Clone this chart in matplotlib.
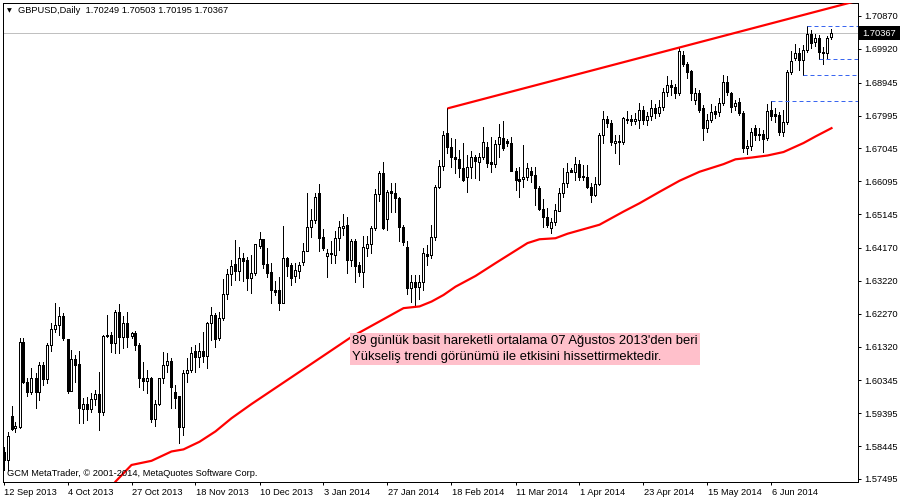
import matplotlib
matplotlib.use("Agg")
import matplotlib.pyplot as plt
import matplotlib.transforms as mtransforms
from matplotlib.patches import Rectangle

# ---------------- data ----------------
symbol = "GBPUSD,Daily"

opens = [1.5828, 1.5805, 1.5932, 1.5897, 1.5900, 1.6146, 1.6030, 1.6001, 1.6042, 1.6001,
         1.6079, 1.6039, 1.6137, 1.6183, 1.6195, 1.6221, 1.6154, 1.6004, 1.6096, 1.6082,
         1.5952, 1.5966, 1.5952, 1.5981, 1.5995, 1.5943, 1.6163, 1.6166, 1.6143, 1.6232,
         1.6160, 1.6200, 1.6163, 1.6172, 1.6137, 1.6042, 1.6033, 1.6042, 1.5923, 1.5966,
         1.6042, 1.6079, 1.6091, 1.6001, 1.5990, 1.5900, 1.6056, 1.6065, 1.6120, 1.6102,
         1.6120, 1.6105, 1.6200, 1.6224, 1.6157, 1.6215, 1.6284, 1.6342, 1.6371, 1.6351,
         1.6388, 1.6382, 1.6330, 1.6345, 1.6423, 1.6443, 1.6371, 1.6348, 1.6296, 1.6296,
         1.6258, 1.6388, 1.6368, 1.6336, 1.6351, 1.6377, 1.6408, 1.6478, 1.6498, 1.6576,
         1.6449, 1.6394, 1.6403, 1.6397, 1.6446, 1.6475, 1.6483, 1.6382, 1.6437, 1.6368,
         1.6348, 1.6417, 1.6429, 1.6475, 1.6573, 1.6634, 1.6501, 1.6582, 1.6576, 1.6561,
         1.6478, 1.6420, 1.6302, 1.6319, 1.6304, 1.6319, 1.6400, 1.6397, 1.6449, 1.6593,
         1.6654, 1.6749, 1.6709, 1.6680, 1.6674, 1.6648, 1.6622, 1.6651, 1.6680, 1.6665,
         1.6680, 1.6709, 1.6665, 1.6660, 1.6717, 1.6735, 1.6726, 1.6720, 1.6639, 1.6616,
         1.6616, 1.6622, 1.6639, 1.6628, 1.6590, 1.6530, 1.6507, 1.6475, 1.6492, 1.6524,
         1.6576, 1.6605, 1.6642, 1.6636, 1.6660, 1.6625, 1.6622, 1.6593, 1.6570, 1.6602,
         1.6743, 1.6789, 1.6778, 1.6720, 1.6726, 1.6723, 1.6787, 1.6789, 1.6784, 1.6787,
         1.6815, 1.6787, 1.6798, 1.6821, 1.6807, 1.6824, 1.6867, 1.6888, 1.6882, 1.6865,
         1.6974, 1.6948, 1.6928, 1.6844, 1.6865, 1.6821, 1.6764, 1.6787, 1.6813, 1.6810,
         1.6836, 1.6896, 1.6865, 1.6827, 1.6839, 1.6807, 1.6706, 1.6712, 1.6764, 1.6746,
         1.6746, 1.6735, 1.6815, 1.6804, 1.6801, 1.6752, 1.6781, 1.6925, 1.6966, 1.6980,
         1.6960, 1.6989, 1.7035, 1.7012, 1.7023, 1.6983, 1.6980, 1.70249]

highs = [1.5842, 1.5886, 1.5961, 1.5915, 1.6157, 1.6157, 1.6042, 1.6070, 1.6056, 1.6088,
         1.6088, 1.6143, 1.6200, 1.6258, 1.6247, 1.6229, 1.6154, 1.6122, 1.6108, 1.6120,
         1.5984, 1.5987, 1.5998, 1.6007, 1.6059, 1.6166, 1.6224, 1.6174, 1.6238, 1.6255,
         1.6221, 1.6232, 1.6174, 1.6177, 1.6143, 1.6088, 1.6065, 1.6045, 1.5978, 1.6042,
         1.6117, 1.6114, 1.6099, 1.6021, 1.5990, 1.6065, 1.6099, 1.6131, 1.6137, 1.6143,
         1.6174, 1.6203, 1.6247, 1.6229, 1.6232, 1.6327, 1.6356, 1.6382, 1.6440, 1.6420,
         1.6403, 1.6391, 1.6397, 1.6429, 1.6463, 1.6443, 1.6417, 1.6374, 1.6322, 1.6333,
         1.6481, 1.6391, 1.6374, 1.6374, 1.6377, 1.6431, 1.6576, 1.6530, 1.6576, 1.6602,
         1.6472, 1.6414, 1.6437, 1.6466, 1.6495, 1.6515, 1.6507, 1.6443, 1.6443, 1.6377,
         1.6452, 1.6452, 1.6481, 1.6587, 1.6639, 1.6665, 1.6584, 1.6605, 1.6605, 1.6564,
         1.6483, 1.6437, 1.6339, 1.6339, 1.6339, 1.6417, 1.6426, 1.6483, 1.6599, 1.6671,
         1.6755, 1.6820, 1.6735, 1.6732, 1.6700, 1.6720, 1.6686, 1.6697, 1.6686, 1.6691,
         1.6766, 1.6723, 1.6738, 1.6729, 1.6775, 1.6784, 1.6732, 1.6738, 1.6648, 1.6651,
         1.6714, 1.6662, 1.6651, 1.6651, 1.6596, 1.6558, 1.6533, 1.6504, 1.6544, 1.6590,
         1.6648, 1.6662, 1.6648, 1.6680, 1.6671, 1.6657, 1.6657, 1.6605, 1.6622, 1.6749,
         1.6813, 1.6798, 1.6787, 1.6743, 1.6743, 1.6795, 1.6813, 1.6801, 1.6807, 1.6836,
         1.6827, 1.6810, 1.6844, 1.6833, 1.6844, 1.6879, 1.6914, 1.6902, 1.6891, 1.6996,
         1.6986, 1.6954, 1.6931, 1.6879, 1.6873, 1.6830, 1.6804, 1.6833, 1.6827, 1.6850,
         1.6917, 1.6914, 1.6867, 1.6844, 1.6850, 1.6813, 1.6729, 1.6764, 1.6772, 1.6764,
         1.6758, 1.6833, 1.6841, 1.6821, 1.6810, 1.6815, 1.6931, 1.6986, 1.7006, 1.6995,
         1.7003, 1.7059, 1.7047, 1.7035, 1.7032, 1.6997, 1.7029, 1.70503]

lows = [1.5776, 1.5776, 1.5891, 1.5886, 1.5897, 1.6027, 1.5990, 1.5995, 1.5955, 1.5978,
        1.6021, 1.6027, 1.6120, 1.6174, 1.6166, 1.6151, 1.5998, 1.6004, 1.6030, 1.5912,
        1.5912, 1.5920, 1.5943, 1.5964, 1.5891, 1.5935, 1.6160, 1.6117, 1.6114, 1.6114,
        1.6128, 1.6131, 1.6157, 1.6122, 1.6016, 1.6007, 1.5998, 1.5915, 1.5903, 1.5964,
        1.6027, 1.6059, 1.5955, 1.5955, 1.5854, 1.5877, 1.6030, 1.6059, 1.6059, 1.6073,
        1.6088, 1.6070, 1.6151, 1.6131, 1.6151, 1.6209, 1.6270, 1.6310, 1.6325, 1.6325,
        1.6322, 1.6296, 1.6287, 1.6339, 1.6417, 1.6359, 1.6333, 1.6258, 1.6281, 1.6238,
        1.6258, 1.6336, 1.6310, 1.6319, 1.6330, 1.6368, 1.6408, 1.6449, 1.6489, 1.6408,
        1.6411, 1.6333, 1.6374, 1.6374, 1.6411, 1.6454, 1.6345, 1.6365, 1.6319, 1.6336,
        1.6304, 1.6394, 1.6403, 1.6469, 1.6553, 1.6472, 1.6469, 1.6521, 1.6521, 1.6437,
        1.6426, 1.6284, 1.6261, 1.6252, 1.6270, 1.6296, 1.6368, 1.6388, 1.6440, 1.6590,
        1.6642, 1.6691, 1.6651, 1.6634, 1.6622, 1.6610, 1.6579, 1.6619, 1.6619, 1.6613,
        1.6674, 1.6651, 1.6636, 1.6651, 1.6680, 1.6700, 1.6712, 1.6639, 1.6584, 1.6564,
        1.6593, 1.6613, 1.6608, 1.6541, 1.6527, 1.6478, 1.6478, 1.6460, 1.6483, 1.6524,
        1.6564, 1.6593, 1.6636, 1.6613, 1.6613, 1.6613, 1.6590, 1.6550, 1.6567, 1.6599,
        1.6720, 1.6766, 1.6714, 1.6691, 1.6660, 1.6717, 1.6778, 1.6772, 1.6775, 1.6764,
        1.6775, 1.6772, 1.6787, 1.6792, 1.6798, 1.6815, 1.6856, 1.6859, 1.6850, 1.6859,
        1.6943, 1.6908, 1.6844, 1.6833, 1.6810, 1.6729, 1.6752, 1.6781, 1.6792, 1.6798,
        1.6830, 1.6859, 1.6810, 1.6815, 1.6801, 1.6694, 1.6688, 1.6700, 1.6729, 1.6729,
        1.6694, 1.6729, 1.6787, 1.6781, 1.6743, 1.6740, 1.6775, 1.6919, 1.6960, 1.6931,
        1.6916, 1.6983, 1.6995, 1.7000, 1.6962, 1.6948, 1.6966, 1.70195]

closes = [1.5805, 1.5874, 1.5894, 1.5903, 1.6146, 1.6030, 1.6001, 1.6042, 1.6001, 1.6079,
          1.6039, 1.6137, 1.6183, 1.6195, 1.6221, 1.6157, 1.6004, 1.6096, 1.6079, 1.5955,
          1.5966, 1.5952, 1.5981, 1.5995, 1.5943, 1.6163, 1.6166, 1.6143, 1.6232, 1.6160,
          1.6200, 1.6160, 1.6172, 1.6137, 1.6042, 1.6033, 1.6042, 1.5923, 1.5966, 1.6042,
          1.6079, 1.6091, 1.6016, 1.5984, 1.5900, 1.6056, 1.6065, 1.6114, 1.6102, 1.6120,
          1.6105, 1.6200, 1.6224, 1.6154, 1.6215, 1.6284, 1.6342, 1.6365, 1.6351, 1.6388,
          1.6379, 1.6330, 1.6345, 1.6429, 1.6443, 1.6371, 1.6345, 1.6296, 1.6290, 1.6258,
          1.6388, 1.6365, 1.6330, 1.6353, 1.6368, 1.6408, 1.6478, 1.6498, 1.6564, 1.6446,
          1.6417, 1.6403, 1.6400, 1.6446, 1.6478, 1.6481, 1.6382, 1.6437, 1.6365, 1.6348,
          1.6420, 1.6429, 1.6475, 1.6573, 1.6634, 1.6475, 1.6579, 1.6576, 1.6561, 1.6478,
          1.6434, 1.6302, 1.6319, 1.6304, 1.6319, 1.6403, 1.6394, 1.6449, 1.6593, 1.6654,
          1.6743, 1.6709, 1.6680, 1.6674, 1.6648, 1.6613, 1.6651, 1.6680, 1.6668, 1.6680,
          1.6723, 1.6662, 1.6660, 1.6717, 1.6738, 1.6706, 1.6720, 1.6639, 1.6613, 1.6610,
          1.6622, 1.6648, 1.6628, 1.6590, 1.6530, 1.6507, 1.6483, 1.6492, 1.6527, 1.6576,
          1.6605, 1.6636, 1.6636, 1.6660, 1.6622, 1.6622, 1.6593, 1.6570, 1.6602, 1.6743,
          1.6789, 1.6778, 1.6723, 1.6726, 1.6723, 1.6792, 1.6789, 1.6784, 1.6789, 1.6815,
          1.6787, 1.6798, 1.6821, 1.6807, 1.6824, 1.6867, 1.6888, 1.6882, 1.6865, 1.6986,
          1.6948, 1.6925, 1.6865, 1.6865, 1.6815, 1.6764, 1.6787, 1.6810, 1.6804, 1.6836,
          1.6896, 1.6867, 1.6824, 1.6836, 1.6807, 1.6706, 1.6712, 1.6752, 1.6743, 1.6743,
          1.6732, 1.6813, 1.6798, 1.6798, 1.6752, 1.6781, 1.6925, 1.6957, 1.6980, 1.6960,
          1.6989, 1.7035, 1.7009, 1.7023, 1.6983, 1.6980, 1.7023, 1.70367]

date_labels = ["12 Sep 2013", "4 Oct 2013", "27 Oct 2013", "18 Nov 2013", "10 Dec 2013",
               "3 Jan 2014", "27 Jan 2014", "18 Feb 2014", "11 Mar 2014", "1 Apr 2014",
               "23 Apr 2014", "15 May 2014", "6 Jun 2014"]
label_every = 16

price_ticks = [1.57495, 1.58445, 1.59395, 1.60345, 1.61320, 1.62270, 1.63220, 1.64170,
               1.65145, 1.66095, 1.67045, 1.67995, 1.68945, 1.69920, 1.70870]

# 89-day simple moving average (bar index, value)
ma_bars = [26, 28, 32, 37, 42, 45, 49, 53, 57, 62, 74, 87, 95, 100, 104, 107, 110, 113,
           118, 123, 127, 131, 134, 138, 141, 145, 149, 152, 155, 159, 164, 169, 174, 180,
           183, 187, 191, 195, 200, 203, 207]
ma_values = [1.5710, 1.5742, 1.5790, 1.5802, 1.5829, 1.5835, 1.5857, 1.5887, 1.5925, 1.5966,
             1.6059, 1.6160, 1.6211, 1.6243, 1.6248, 1.6262, 1.6281, 1.6305, 1.6336, 1.6373,
             1.6402, 1.6431, 1.6442, 1.6445, 1.6458, 1.6471, 1.6484, 1.6503, 1.6522, 1.6546,
             1.6579, 1.6611, 1.6637, 1.6659, 1.6673, 1.6678, 1.6684, 1.6694, 1.6720, 1.6739,
             1.6763]

trend_bars = [111, 169]
trend_prices = [1.6820, 1.6996]

level_prices = [1.7059, 1.6962, 1.6916, 1.6841]
level_start_bars = [201, 204, 200, 192]

note = ("89 günlük basit hareketli ortalama 07 Ağustos 2013'den beri\n"
        "Yükseliş trendi görünümü ile etkisini hissettirmektedir.")
copyright_text = "GCM MetaTrader, © 2001-2014, MetaQuotes Software Corp."

# ---------------- figure ----------------
W, H = 900, 500
DPI = 100
PX = 72.0 / DPI  # one pixel in points
fig = plt.figure(figsize=(9, 5), dpi=DPI)
fig.patch.set_facecolor("white")
ax = fig.add_axes([3 / W, 18 / H, 855 / W, 479 / H])
ax.set_facecolor("white")

XMIN = -0.125
XMAX = XMIN + 855 / 4.0
YMIN, YMAX = 1.57408, 1.71245
ax.set_xlim(XMIN, XMAX)
ax.set_ylim(YMIN, YMAX)

uifont = ["Liberation Sans", "DejaVu Sans"]
LW = PX

# current price line
cur = closes[-1]
ax.axhline(cur, color="#c0c0c0", lw=LW, zorder=0.5)

# candles
n = len(closes)
xs = list(range(n))
ax.vlines(xs, lows, highs, colors="black", linewidth=LW, zorder=2, antialiased=False)
for i in range(n):
    o, c = opens[i], closes[i]
    up = c >= o
    r = Rectangle((i - 0.25, min(o, c)), 0.5, abs(c - o),
                  facecolor="white" if up else "black", edgecolor="black",
                  linewidth=LW, zorder=3, snap=True, antialiased=False)
    ax.add_patch(r)

# moving average
ax.plot(ma_bars, ma_values, color="red", lw=2.2 * PX, zorder=4, solid_joinstyle="round")

# trend line (ray)
slope = (trend_prices[1] - trend_prices[0]) / (trend_bars[1] - trend_bars[0])
x_end = XMAX + 5
ax.plot([trend_bars[0], x_end], [trend_prices[0], trend_prices[0] + slope * (x_end - trend_bars[0])],
        color="red", lw=2.2 * PX, zorder=4, solid_capstyle="butt")

# horizontal dashed levels
for lvl, sb in zip(level_prices, level_start_bars):
    ax.hlines(lvl, sb, XMAX, colors="#3a66f0", linewidth=LW, linestyles=(0, (4, 3)), zorder=4)

# annotation
ax.text(87.2, 1.6166, note, ha="left", va="top", fontsize=9.35, family=uifont,
        color="black", linespacing=1.5, zorder=6,
        bbox=dict(boxstyle="square,pad=0.16", fc="#ffc0cb", ec="none"))

# axes styling
for sp in ax.spines.values():
    sp.set_color("black")
    sp.set_linewidth(LW)

ax.yaxis.tick_right()
ax.set_yticks(price_ticks)
ax.set_yticklabels([f"{p:.5f}" for p in price_ticks], fontsize=6.7, family=uifont)
ax.tick_params(axis="y", direction="out", length=3 * PX, width=LW, pad=2.5, colors="black")

xt = [i * label_every for i in range(len(date_labels))]
ax.set_xticks(xt)
ax.set_xticklabels(date_labels, fontsize=6.7, family=uifont, ha="left")
ax.tick_params(axis="x", direction="out", length=3 * PX, width=LW, pad=2.5, colors="black")
offset = mtransforms.ScaledTranslation(1 / DPI, 0, fig.dpi_scale_trans)
for lab in ax.get_xticklabels():
    lab.set_transform(lab.get_transform() + offset)

# current price label on the right (black box at the right edge)
trans = mtransforms.blended_transform_factory(ax.transAxes, ax.transData)
box_h = 14 * (YMAX - YMIN) / 479.0
ax.add_patch(Rectangle((1.0, cur - box_h / 2), 42 / 855.0, box_h, transform=trans,
                       facecolor="black", edgecolor="none", clip_on=False, zorder=9))
ax.text(1.0 + 4 / 855.0, cur, f"{cur:.5f}", transform=trans, ha="left", va="center",
        fontsize=6.7, family=uifont, color="white", zorder=10, clip_on=False)

# header and footer
header = f"{symbol}  {opens[-1]:.5f} {highs[-1]:.5f} {lows[-1]:.5f} {closes[-1]:.5f}"
fig.text(7 / W, 1 - 10.5 / H, "\u25bc", fontsize=4.5, family=["DejaVu Sans"], va="center", ha="left")
fig.text(18 / W, 1 - 10.5 / H, header, fontsize=6.7, family=uifont, va="center", ha="left")
fig.text(7 / W, 1 - 474 / H, copyright_text, fontsize=6.7, family=uifont, va="center", ha="left")

fig.savefig("out.png", dpi=DPI)
